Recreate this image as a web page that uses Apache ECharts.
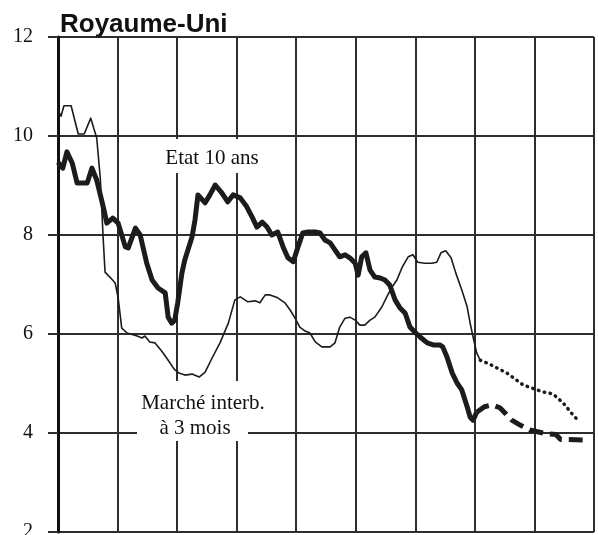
<!DOCTYPE html>
<html>
<head>
<meta charset="utf-8">
<script src="https://cdn.jsdelivr.net/npm/echarts@6/dist/echarts.min.js"></script>
<style>
html,body{margin:0;padding:0;background:#fff;overflow:hidden;}
#chart{width:598px;height:535px;}
</style>
</head>
<body>
<div id="chart"></div>
<script>
// Axis ticks
const yTicks = [2, 4, 6, 8, 10, 12];
const xStart = 1992, xEnd = 2001;

// Etat 10 ans (thick line)
const govYears = [
  1992.00,1992.08,1992.15,1992.24,1992.32,
  1992.49,1992.57,1992.65,1992.76,1992.82,
  1992.92,1993.01,1993.13,1993.18,1993.30,
  1993.38,1993.49,1993.58,1993.68,1993.80,
  1993.85,1993.91,1993.96,1994.01,1994.08,
  1994.13,1994.25,1994.30,1994.35,1994.47,
  1994.55,1994.64,1994.75,1994.85,1994.94,
  1995.06,1995.17,1995.26,1995.34,1995.43,
  1995.51,1995.59,1995.69,1995.78,1995.86,
  1995.95,1996.03,1996.11,1996.20,1996.32,
  1996.40,1996.48,1996.57,1996.65,1996.73,
  1996.82,1996.90,1996.99,1997.04,1997.10,
  1997.17,1997.24,1997.32,1997.41,1997.49,
  1997.57,1997.66,1997.74,1997.83,1997.91,
  1997.99,1998.08,1998.20,1998.30,1998.41,
  1998.46,1998.53,1998.62,1998.70,1998.78,
  1998.87,1998.92,1998.97,1999.03
];
const govRates = [
  9.47,9.35,9.68,9.45,9.05,
  9.05,9.35,9.11,8.57,8.24,
  8.34,8.24,7.76,7.74,8.14,
  8.00,7.43,7.09,6.93,6.83,
  6.34,6.22,6.28,6.63,7.23,
  7.50,7.96,8.30,8.81,8.65,
  8.81,9.01,8.85,8.67,8.81,
  8.75,8.57,8.36,8.16,8.26,
  8.16,8.00,8.06,7.76,7.54,
  7.46,7.76,8.04,8.06,8.06,
  8.04,7.90,7.84,7.70,7.56,
  7.60,7.54,7.43,7.19,7.56,
  7.64,7.29,7.15,7.13,7.09,
  6.99,6.69,6.53,6.42,6.14,
  6.04,5.94,5.82,5.78,5.78,
  5.74,5.54,5.21,5.01,4.87,
  4.53,4.32,4.26,4.42
];
// Etat 10 ans forecast (dashed)
const govFcYears = [1999.03,1999.16,1999.29,1999.42,1999.51,1999.62,1999.76,1999.92,2000.18,2000.36,2000.44,2000.81];
const govFcRates = [4.42,4.53,4.57,4.51,4.40,4.26,4.16,4.06,3.99,3.97,3.87,3.86];

// Marché interbancaire à 3 mois (thin line)
const ibYears = [
  1992.00,1992.05,1992.10,1992.22,1992.34,
  1992.44,1992.55,1992.65,1992.71,1992.76,
  1992.79,1992.87,1992.96,1993.01,1993.07,
  1993.16,1993.33,1993.41,1993.46,1993.54,
  1993.63,1993.75,1993.85,1993.95,1994.03,
  1994.13,1994.25,1994.37,1994.47,1994.59,
  1994.72,1994.86,1994.97,1995.06,1995.19,
  1995.31,1995.39,1995.48,1995.56,1995.69,
  1995.81,1995.90,1995.98,1996.06,1996.15,
  1996.23,1996.32,1996.43,1996.57,1996.65,
  1996.73,1996.82,1996.90,1996.99,1997.07,
  1997.15,1997.24,1997.32,1997.44,1997.52,
  1997.61,1997.69,1997.78,1997.88,1997.96,
  1998.04,1998.16,1998.28,1998.36,1998.43,
  1998.51,1998.60,1998.68,1998.78,1998.87,
  1998.92,1998.97,1999.03,1999.09
];
const ibRates = [
  10.53,10.40,10.61,10.61,10.04,
  10.04,10.36,9.96,9.15,7.90,
  7.25,7.15,7.03,6.73,6.12,
  6.02,5.96,5.92,5.96,5.84,
  5.82,5.64,5.47,5.29,5.21,
  5.17,5.19,5.13,5.23,5.52,
  5.82,6.22,6.69,6.75,6.65,
  6.67,6.63,6.79,6.79,6.73,
  6.63,6.48,6.32,6.14,6.06,
  6.02,5.84,5.74,5.74,5.82,
  6.14,6.32,6.34,6.28,6.18,
  6.18,6.28,6.34,6.55,6.75,
  6.95,7.09,7.35,7.56,7.60,
  7.45,7.43,7.43,7.45,7.64,
  7.68,7.54,7.23,6.89,6.55,
  6.22,5.94,5.62,5.47
];
// Interbank forecast (dotted)
const ibFcYears = [1999.09,1999.25,1999.54,1999.81,2000.14,2000.31,2000.48,2000.65,2000.73];
const ibFcRates = [5.47,5.39,5.21,4.97,4.83,4.79,4.61,4.36,4.26];

const zip = (xs, ys) => xs.map((x, i) => [x, ys[i]]);
const INK = '#1c1c1c';
const GRID = '#2e2e2e';

const chart = echarts.init(document.getElementById('chart'), null, {renderer: 'canvas'});
chart.setOption({
  animation: false,
  backgroundColor: '#fff',
  grid: {left: 58, right: 4, top: 37, bottom: 3, containLabel: false, outerBoundsMode: 'none'},
  xAxis: {
    type: 'value', min: xStart, max: xEnd, interval: 1,
    axisLine: {show: false}, axisTick: {show: false}, axisLabel: {show: false},
    splitLine: {show: true, lineStyle: {color: GRID, width: 2}}
  },
  yAxis: {
    type: 'value', min: yTicks[0], max: yTicks[yTicks.length - 1], interval: 2,
    axisLine: {show: true, lineStyle: {color: '#111', width: 3}},
    axisTick: {show: true, length: 10, inside: false, lineStyle: {color: GRID, width: 2}},
    axisLabel: {show: true, margin: 25, color: '#111', fontFamily: 'Liberation Serif', fontSize: 20},
    splitLine: {show: true, lineStyle: {color: GRID, width: 2}}
  },
  series: [
    {type: 'line', data: zip(ibYears, ibRates), showSymbol: false, z: 3,
     lineStyle: {color: INK, width: 1.6, join: 'round'}},
    {type: 'line', data: zip(ibFcYears, ibFcRates), showSymbol: false, z: 3,
     lineStyle: {color: INK, width: 3.5, type: [0.5, 5.5], cap: 'round'}},
    {type: 'line', data: zip(govYears, govRates), showSymbol: false, z: 4,
     lineStyle: {color: INK, width: 5, join: 'round'}},
    {type: 'line', data: zip(govFcYears, govFcRates), showSymbol: false, z: 4,
     lineStyle: {color: INK, width: 5, type: [14, 7]}}
  ],
  graphic: [
    {type: 'text', left: 60, top: 12, z: 20,
     style: {text: 'Royaume-Uni', fill: '#111', font: 'bold 26px "Liberation Sans"'}},
    {type: 'rect', z: 10, shape: {x: 152, y: 139, width: 116, height: 34}, style: {fill: '#fff'}},
    {type: 'text', z: 20, x: 212, y: 158,
     style: {text: 'Etat 10 ans', fill: '#111', font: '21px "Liberation Serif"', align: 'center', verticalAlign: 'middle'}},
    {type: 'rect', z: 10, shape: {x: 133, y: 381, width: 137, height: 34}, style: {fill: '#fff'}},
    {type: 'rect', z: 10, shape: {x: 137, y: 414, width: 111, height: 27}, style: {fill: '#fff'}},
    {type: 'text', z: 20, x: 203, y: 403,
     style: {text: 'Marché interb.', fill: '#111', font: '21px "Liberation Serif"', align: 'center', verticalAlign: 'middle'}},
    {type: 'text', z: 20, x: 195, y: 428,
     style: {text: 'à 3 mois', fill: '#111', font: '21px "Liberation Serif"', align: 'center', verticalAlign: 'middle'}}
  ]
});
</script>
</body>
</html>
